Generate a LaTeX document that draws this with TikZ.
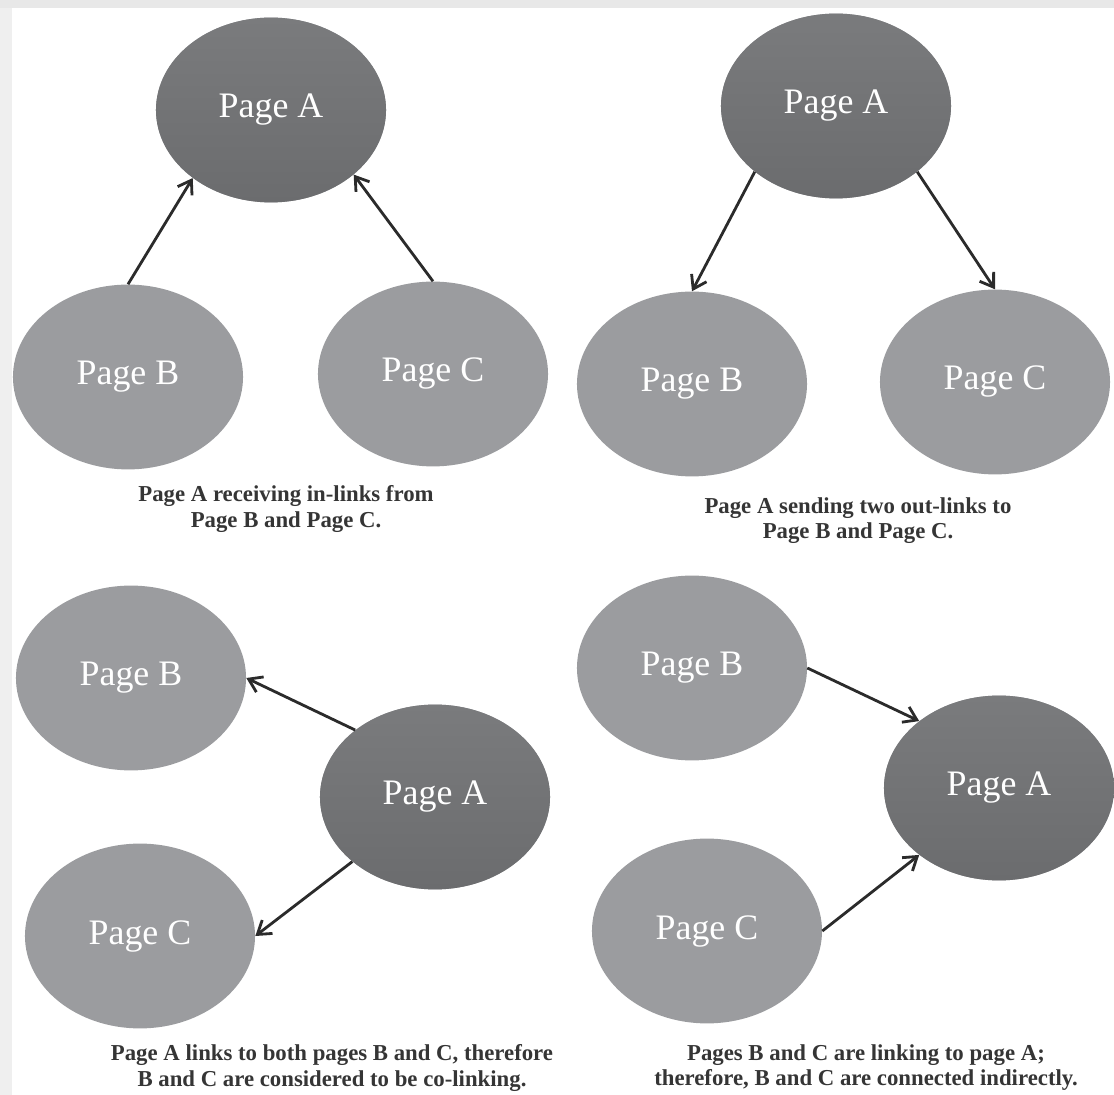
\documentclass[tikz,border=0pt]{standalone}
\usepackage{fontspec}
\setmainfont{Liberation Serif}
\definecolor{pgLight}{HTML}{9B9C9F}
\definecolor{pgDarkTop}{HTML}{7A7B7D}
\definecolor{pgDarkBot}{HTML}{6B6C6E}
\definecolor{pgText}{HTML}{353535}
\definecolor{pgArrow}{HTML}{2B2B2B}
\definecolor{pgFrame}{HTML}{E8E8E8}
\usetikzlibrary{arrows.meta,shapes.geometric}

\begin{document}
\begin{tikzpicture}[
  x=0.025cm, y=-0.025cm,
  lightpage/.style={ellipse, fill=pgLight, text=white, inner sep=0pt,
    minimum width=5.75cm, minimum height=4.62cm, font=\fontsize{25.5}{28}\selectfont},
  darkpage/.style={lightpage, top color=pgDarkTop, bottom color=pgDarkBot},
  arr/.style={-{Straight Barb[length=9pt,width=12pt]}, line width=2pt, color=pgArrow},
  caption/.style={align=center, text=pgText, font=\fontsize{16.2}{17.8}\selectfont\bfseries}
]
  \useasboundingbox (0,0) rectangle (1114,1095);
  \fill[pgFrame] (0,0) rectangle (1114,8);
  \fill[pgFrame!70] (0,8) rectangle (12,1095);

  % in-links
  \node[darkpage] (inA) at (271,110) {Page A};
  \node[lightpage] (inB) at (128,377) {Page B};
  \node[lightpage] (inC) at (433,374) {Page C};
  \draw[arr] (inB.north) -- (inA.221);
  \draw[arr] (inC.north) -- (inA.322);
  \node[caption] (inCap) at (286,509) {Page A receiving in-links from\\Page B and Page C.};

  % out-links
  \node[darkpage] (outA) at (836,106) {Page A};
  \node[lightpage] (outB) at (692,384) {Page B};
  \node[lightpage] (outC) at (995,382) {Page C};
  \draw[arr] (outA.219) -- (outB.north);
  \draw[arr] (outA.321) -- (outC.north);
  \node[caption] (outCap) at (858,521) {Page A sending two out-links to\\Page B and Page C.};

  % co-linking
  \node[lightpage] (coB) at (131,678) {Page B};
  \node[darkpage] (coA) at (435,797) {Page A};
  \node[lightpage] (coC) at (140,936) {Page C};
  \draw[arr] (coA.140) -- (coB.east);
  \draw[arr] (coA.218) -- (coC.east);
  \node[caption] (coCap) at (332,1068) {Page A links to both pages B and C, therefore\\B and C are considered to be co-linking.};

  % co-citation
  \node[lightpage] (ciB) at (692,668) {Page B};
  \node[darkpage] (ciA) at (999,788) {Page A};
  \node[lightpage] (ciC) at (707,931) {Page C};
  \draw[arr] (ciB.east) -- (ciA.140);
  \draw[arr] (ciC.east) -- (ciA.220);
  \node[caption] (ciCap) at (866,1068) {Pages B and C are linking to page A;\\therefore, B and C are connected indirectly.};
\end{tikzpicture}
\end{document}
